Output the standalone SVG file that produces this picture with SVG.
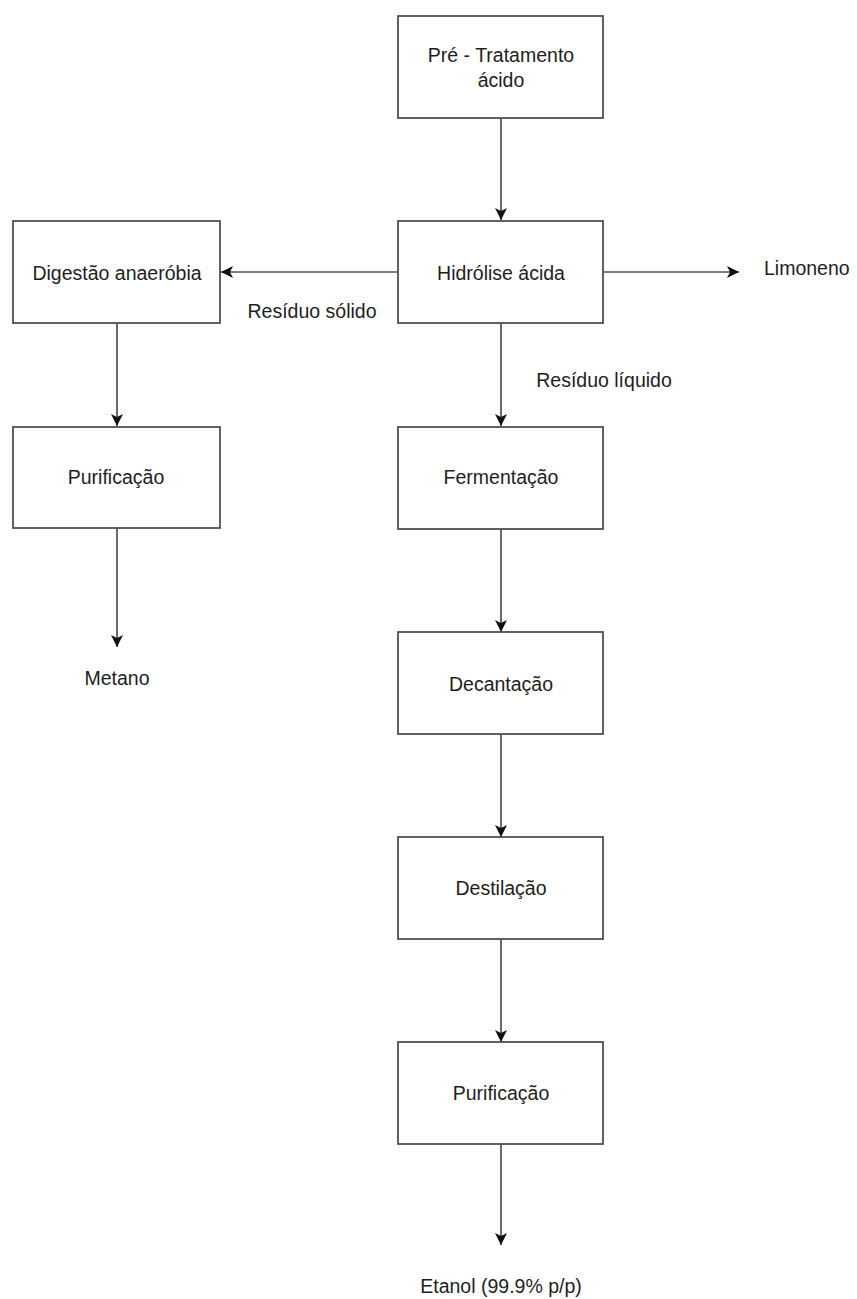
<svg xmlns="http://www.w3.org/2000/svg" width="857" height="1299" viewBox="0 0 857 1299">
<style>
.box{fill:#fff;stroke:#505050;stroke-width:1.8}
.t{font-family:"Liberation Sans",Arial,sans-serif;font-size:19.5px;fill:#1e1e1e;text-anchor:middle}
.ts{font-family:"Liberation Sans",Arial,sans-serif;font-size:19.5px;fill:#1e1e1e;text-anchor:start}
.c{fill:none;stroke:#505050;stroke-width:1.7}
</style>
<defs>
<marker id="ah" viewBox="0 0 10 10" refX="10" refY="5" markerWidth="12" markerHeight="12" markerUnits="userSpaceOnUse" orient="auto">
<path d="M0,0 L10,5 L0,10 L2.5,5 Z" fill="#111"/>
</marker>
</defs>
<rect width="857" height="1299" fill="#fff"/>
<g id="connectors">
<line class="c" x1="501" y1="118" x2="501" y2="220" marker-end="url(#ah)"/>
<line class="c" x1="398" y1="272" x2="221" y2="272" marker-end="url(#ah)"/>
<line class="c" x1="603" y1="272" x2="739" y2="272" marker-end="url(#ah)"/>
<line class="c" x1="501" y1="323" x2="501" y2="426" marker-end="url(#ah)"/>
<line class="c" x1="117" y1="323" x2="117" y2="426" marker-end="url(#ah)"/>
<line class="c" x1="117" y1="528" x2="117" y2="647" marker-end="url(#ah)"/>
<line class="c" x1="501" y1="529" x2="501" y2="632" marker-end="url(#ah)"/>
<line class="c" x1="501" y1="734" x2="501" y2="837" marker-end="url(#ah)"/>
<line class="c" x1="501" y1="939" x2="501" y2="1042" marker-end="url(#ah)"/>
<line class="c" x1="501" y1="1144" x2="501" y2="1245" marker-end="url(#ah)"/>
<text class="t" x="312" y="318">Resíduo sólido</text>
<text class="t" x="604" y="387">Resíduo líquido</text>
</g>
<g id="pre-tratamento">
<rect class="box" x="398" y="16" width="205" height="102"/>
<text class="t" x="501" y="62">Pré - Tratamento</text>
<text class="t" x="501" y="87">ácido</text>
</g>
<g id="hidrolise">
<rect class="box" x="398" y="221" width="205" height="102"/>
<text class="t" x="501" y="280">Hidrólise ácida</text>
</g>
<g id="digestao">
<rect class="box" x="13" y="221" width="207" height="102"/>
<text class="t" x="117" y="280">Digestão anaeróbia</text>
</g>
<g id="limoneno">
<text class="ts" x="764" y="275">Limoneno</text>
</g>
<g id="purificacao-1">
<rect class="box" x="13" y="427" width="207" height="101"/>
<text class="t" x="116" y="484">Purificação</text>
</g>
<g id="metano">
<text class="t" x="117" y="685">Metano</text>
</g>
<g id="fermentacao">
<rect class="box" x="398" y="427" width="205" height="102"/>
<text class="t" x="501" y="484">Fermentação</text>
</g>
<g id="decantacao">
<rect class="box" x="398" y="632" width="205" height="102"/>
<text class="t" x="501" y="691">Decantação</text>
</g>
<g id="destilacao">
<rect class="box" x="398" y="837" width="205" height="102"/>
<text class="t" x="501" y="895">Destilação</text>
</g>
<g id="purificacao-2">
<rect class="box" x="398" y="1042" width="205" height="102"/>
<text class="t" x="501" y="1100">Purificação</text>
</g>
<g id="etanol">
<text class="t" x="501" y="1293">Etanol (99.9% p/p)</text>
</g>
</svg>
